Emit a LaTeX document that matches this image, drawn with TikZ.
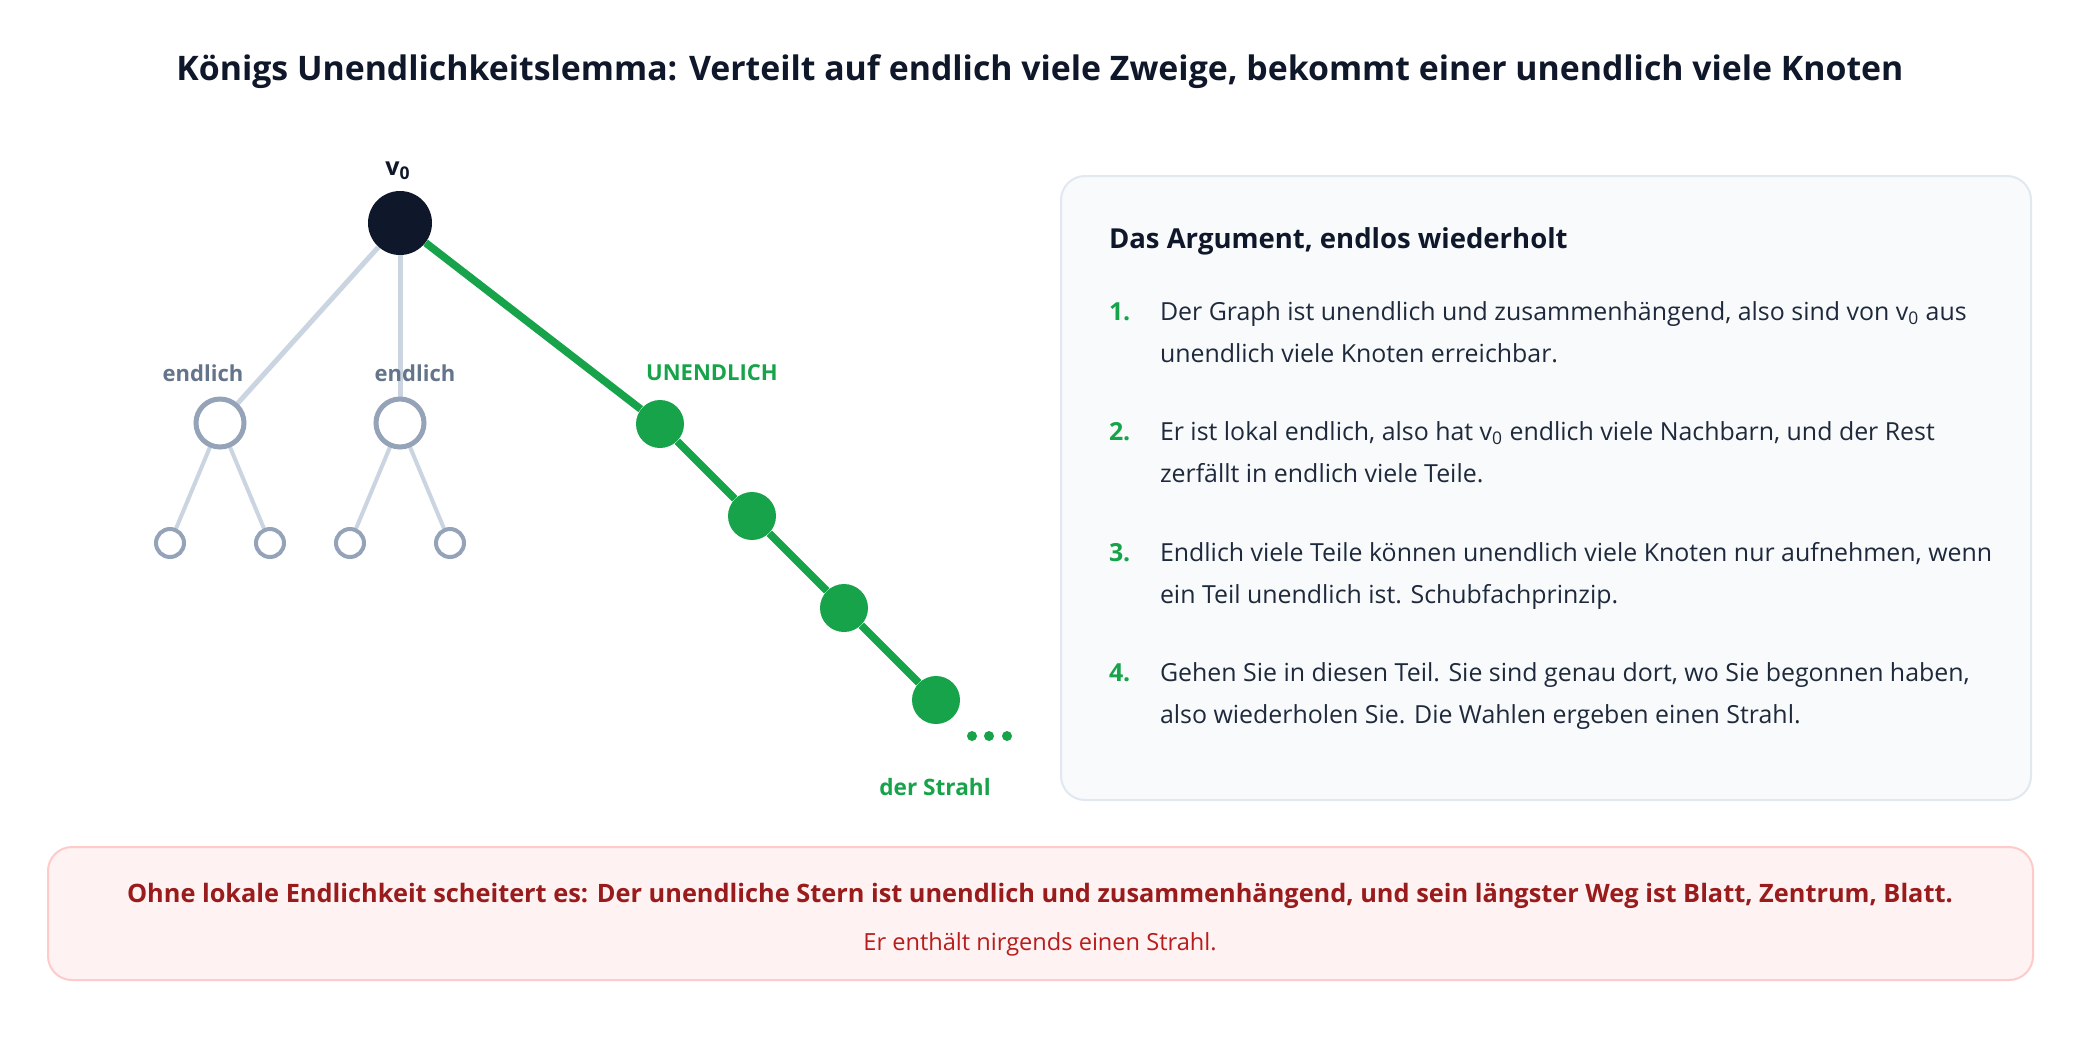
\documentclass[tikz,border=0pt]{standalone}
\usepackage{fontspec}
\IfFontExistsTF{Noto Sans Bold}
  {\setmainfont{Noto Sans}[BoldFont={Noto Sans Bold}]}
  {\IfFontExistsTF{Open Sans Bold}
     {\setmainfont{Open Sans}[BoldFont={Open Sans Bold}]}
     {\setmainfont{Carlito}}}
\usetikzlibrary{backgrounds}
\definecolor{ink}{HTML}{0F172A}
\definecolor{bodyc}{HTML}{1E293B}
\definecolor{graylab}{HTML}{64748B}
\definecolor{ringc}{HTML}{94A3B8}
\definecolor{edgec}{HTML}{CBD5E1}
\definecolor{grn}{HTML}{16A34A}
\definecolor{panelf}{HTML}{F8FAFC}
\definecolor{paneld}{HTML}{E2E8F0}
\definecolor{warnf}{HTML}{FEF2F2}
\definecolor{warnd}{HTML}{FECACA}
\definecolor{warnt}{HTML}{991B1B}
\definecolor{warnt2}{HTML}{B91C1C}
\tikzset{
  root/.style={circle,fill=ink,minimum size=32pt,inner sep=0pt},
  ring/.style={circle,draw=ringc,line width=2.5pt,fill=white,minimum size=24pt,inner sep=0pt},
  leaf/.style={circle,draw=ringc,line width=2pt,fill=white,minimum size=14pt,inner sep=0pt},
  gnode/.style={circle,fill=grn,minimum size=24pt,inner sep=0pt},
  gdot/.style={circle,fill=grn,minimum size=5pt,inner sep=0pt},
  grayedge/.style={draw=edgec,line width=2.5pt},
  leafedge/.style={draw=edgec,line width=2pt},
  greenedge/.style={draw=grn,line width=3.8pt},
  txt/.style={inner sep=0pt,outer sep=0pt},
  labg/.style={txt,anchor=base,text=graylab,font=\fontsize{11pt}{13pt}\selectfont\bfseries},
  labgr/.style={txt,anchor=base,text=grn,font=\fontsize{11pt}{13pt}\selectfont\bfseries},
  body/.style={txt,anchor=base west,text=bodyc,font=\fontsize{12.45pt}{15pt}\selectfont},
  num/.style={txt,anchor=base west,text=grn,font=\fontsize{12.45pt}{15pt}\selectfont\bfseries},
  panelbox/.style={draw=paneld,fill=panelf,line width=1pt,rounded corners=12pt,inner sep=0pt},
  warnbox/.style={draw=warnd,fill=warnf,line width=1pt,rounded corners=12pt,inner sep=0pt}
}
\begin{document}
\begin{tikzpicture}[x=0.5pt,y=-0.5pt]
\useasboundingbox (0,0) rectangle (2080,1040);
% title
\node[txt,anchor=base,text=ink,font=\fontsize{16.9pt}{20pt}\selectfont\bfseries] (title) at (1040,80)
  {Königs Unendlichkeitslemma: Verteilt auf endlich viele Zweige, bekommt einer unendlich viele Knoten};
% tree
\node[root] (v0) at (400,223) {};
\node[txt,anchor=base,text=ink,font=\fontsize{12.5pt}{14pt}\selectfont\bfseries] (v0lab) at (398,175) {v\textsubscript{0}};
\node[ring] (a) at (220,423) {};
\node[ring] (b) at (400,423) {};
\node[leaf] (a1) at (170,543) {};
\node[leaf] (a2) at (270,543) {};
\node[leaf] (b1) at (350,543) {};
\node[leaf] (b2) at (450,543) {};
\node[gnode] (g1) at (660,424) {};
\node[gnode] (g2) at (752,516) {};
\node[gnode] (g3) at (844,608) {};
\node[gnode] (g4) at (936,700) {};
\node[gdot] (d1) at (972,736) {};
\node[gdot] (d2) at (989,736) {};
\node[gdot] (d3) at (1007,736) {};
\begin{scope}[on background layer]
  \fill[white] (0,0) rectangle (2080,1040);
  \draw[grayedge] (v0) -- (a);
  \draw[grayedge] (v0) -- (b);
  \draw[leafedge] (a) -- (a1);
  \draw[leafedge] (a) -- (a2);
  \draw[leafedge] (b) -- (b1);
  \draw[leafedge] (b) -- (b2);
  \draw[greenedge] (v0) -- (g1);
  \draw[greenedge] (g1) -- (g2);
  \draw[greenedge] (g2) -- (g3);
  \draw[greenedge] (g3) -- (g4);
\end{scope}
\node[labg] (la) at (203,381) {endlich};
\node[labg] (lb) at (415,381) {endlich};
\node[labgr] (lg) at (712,380) {UNENDLICH};
\node[labgr,font=\fontsize{11.3pt}{13pt}\selectfont\bfseries] (ls) at (935,795) {der Strahl};
% panel
\node[panelbox,minimum width=485pt,minimum height=312pt] (panel) at (1546,488) {};
\node[txt,anchor=base west,text=ink,font=\fontsize{13.75pt}{16pt}\selectfont\bfseries] (ph) at (1109,248) {Das Argument, endlos wiederholt};
\node[num] (n1) at (1109,320) {1.};
\node[body] (t1a) at (1160,320) {Der Graph ist unendlich und zusammenhängend, also sind von v\textsubscript{0} aus};
\node[body] (t1b) at (1160,362) {unendlich viele Knoten erreichbar.};
\node[num] (n2) at (1109,440.5) {2.};
\node[body] (t2a) at (1160,440.5) {Er ist lokal endlich, also hat v\textsubscript{0} endlich viele Nachbarn, und der Rest};
\node[body] (t2b) at (1160,482.5) {zerfällt in endlich viele Teile.};
\node[num] (n3) at (1109,561) {3.};
\node[body] (t3a) at (1160,561) {Endlich viele Teile können unendlich viele Knoten nur aufnehmen, wenn};
\node[body] (t3b) at (1160,603) {ein Teil unendlich ist. Schubfachprinzip.};
\node[num] (n4) at (1109,681.5) {4.};
\node[body] (t4a) at (1160,681.5) {Gehen Sie in diesen Teil. Sie sind genau dort, wo Sie begonnen haben,};
\node[body] (t4b) at (1160,723.5) {also wiederholen Sie. Die Wahlen ergeben einen Strahl.};
% warning box
\node[warnbox,minimum width=992.5pt,minimum height=66.5pt] (warn) at (1040.5,913.5) {};
\node[txt,anchor=base,text=warnt,font=\fontsize{12.67pt}{15pt}\selectfont\bfseries] (w1) at (1040,902)
  {Ohne lokale Endlichkeit scheitert es: Der unendliche Stern ist unendlich und zusammenhängend, und sein längster Weg ist Blatt, Zentrum, Blatt.};
\node[txt,anchor=base,text=warnt2,font=\fontsize{11.8pt}{14pt}\selectfont] (w2) at (1040,950)
  {Er enthält nirgends einen Strahl.};
\end{tikzpicture}
\end{document}
